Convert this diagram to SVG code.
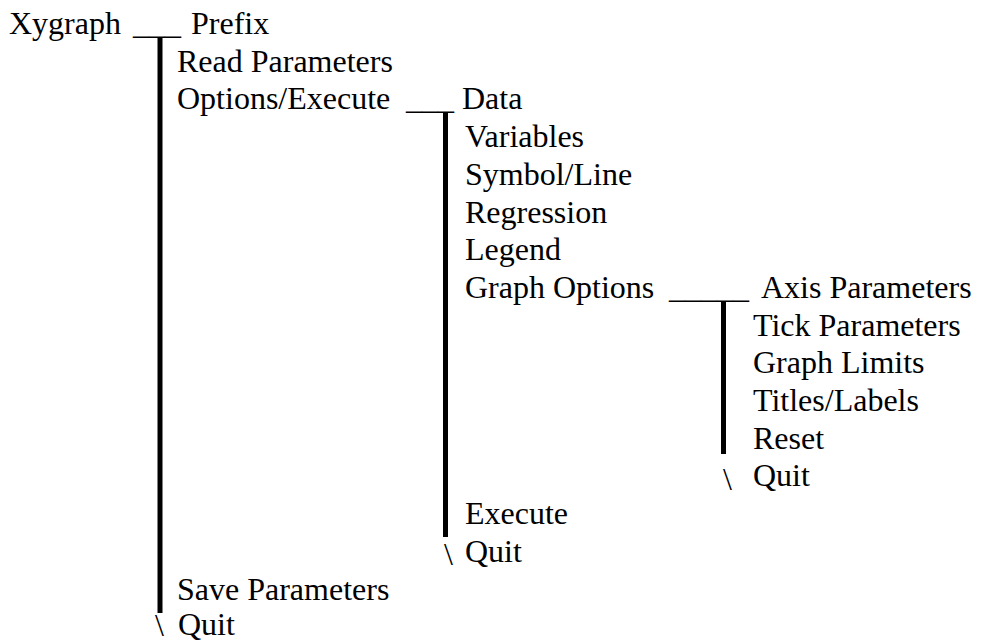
<svg xmlns="http://www.w3.org/2000/svg" width="981" height="642" viewBox="0 0 981 642">
<style>
text{font-family:"Liberation Serif","Times New Roman",serif;font-size:32px;fill:#000}
.bar{fill:#000}
</style>
<rect width="981" height="642" fill="#fff"/>
<g id="connectors">
<rect class="bar" x="157.5" y="37" width="5" height="576"/>
<rect class="bar" x="443" y="112" width="5" height="425"/>
<rect class="bar" x="721" y="302" width="5" height="152"/>
</g>
<g id="n-xygraph"><text x="9" y="34">Xygraph</text><text x="133" y="34">___</text></g>
<g id="n-prefix"><text x="191" y="34">Prefix</text></g>
<g id="n-read"><text x="177" y="71.7">Read Parameters</text></g>
<g id="n-options"><text x="177" y="109.4">Options/Execute</text><text x="406" y="109.4">___</text></g>
<g id="n-data"><text x="462" y="109.4">Data</text></g>
<g id="n-variables"><text x="465" y="147.1">Variables</text></g>
<g id="n-symbol"><text x="465" y="184.8">Symbol/Line</text></g>
<g id="n-regression"><text x="465" y="222.5">Regression</text></g>
<g id="n-legend"><text x="465" y="260.2">Legend</text></g>
<g id="n-graphoptions"><text x="465" y="297.9">Graph Options</text><text x="669" y="297.9">_____</text></g>
<g id="n-axis"><text x="761" y="297.9">Axis Parameters</text></g>
<g id="n-tick"><text x="753" y="335.6">Tick Parameters</text></g>
<g id="n-limits"><text x="753" y="373.3">Graph Limits</text></g>
<g id="n-titles"><text x="753" y="411">Titles/Labels</text></g>
<g id="n-reset"><text x="753" y="448.7">Reset</text></g>
<g id="n-quit3"><text x="723" y="490">\</text><text x="753" y="486.4">Quit</text></g>
<g id="n-execute"><text x="465" y="524.1">Execute</text></g>
<g id="n-quit2"><text x="444" y="565">\</text><text x="465" y="561.8">Quit</text></g>
<g id="n-save"><text x="177" y="599.5">Save Parameters</text></g>
<g id="n-quit1"><text x="155" y="636">\</text><text x="178" y="634.5">Quit</text></g>
</svg>
